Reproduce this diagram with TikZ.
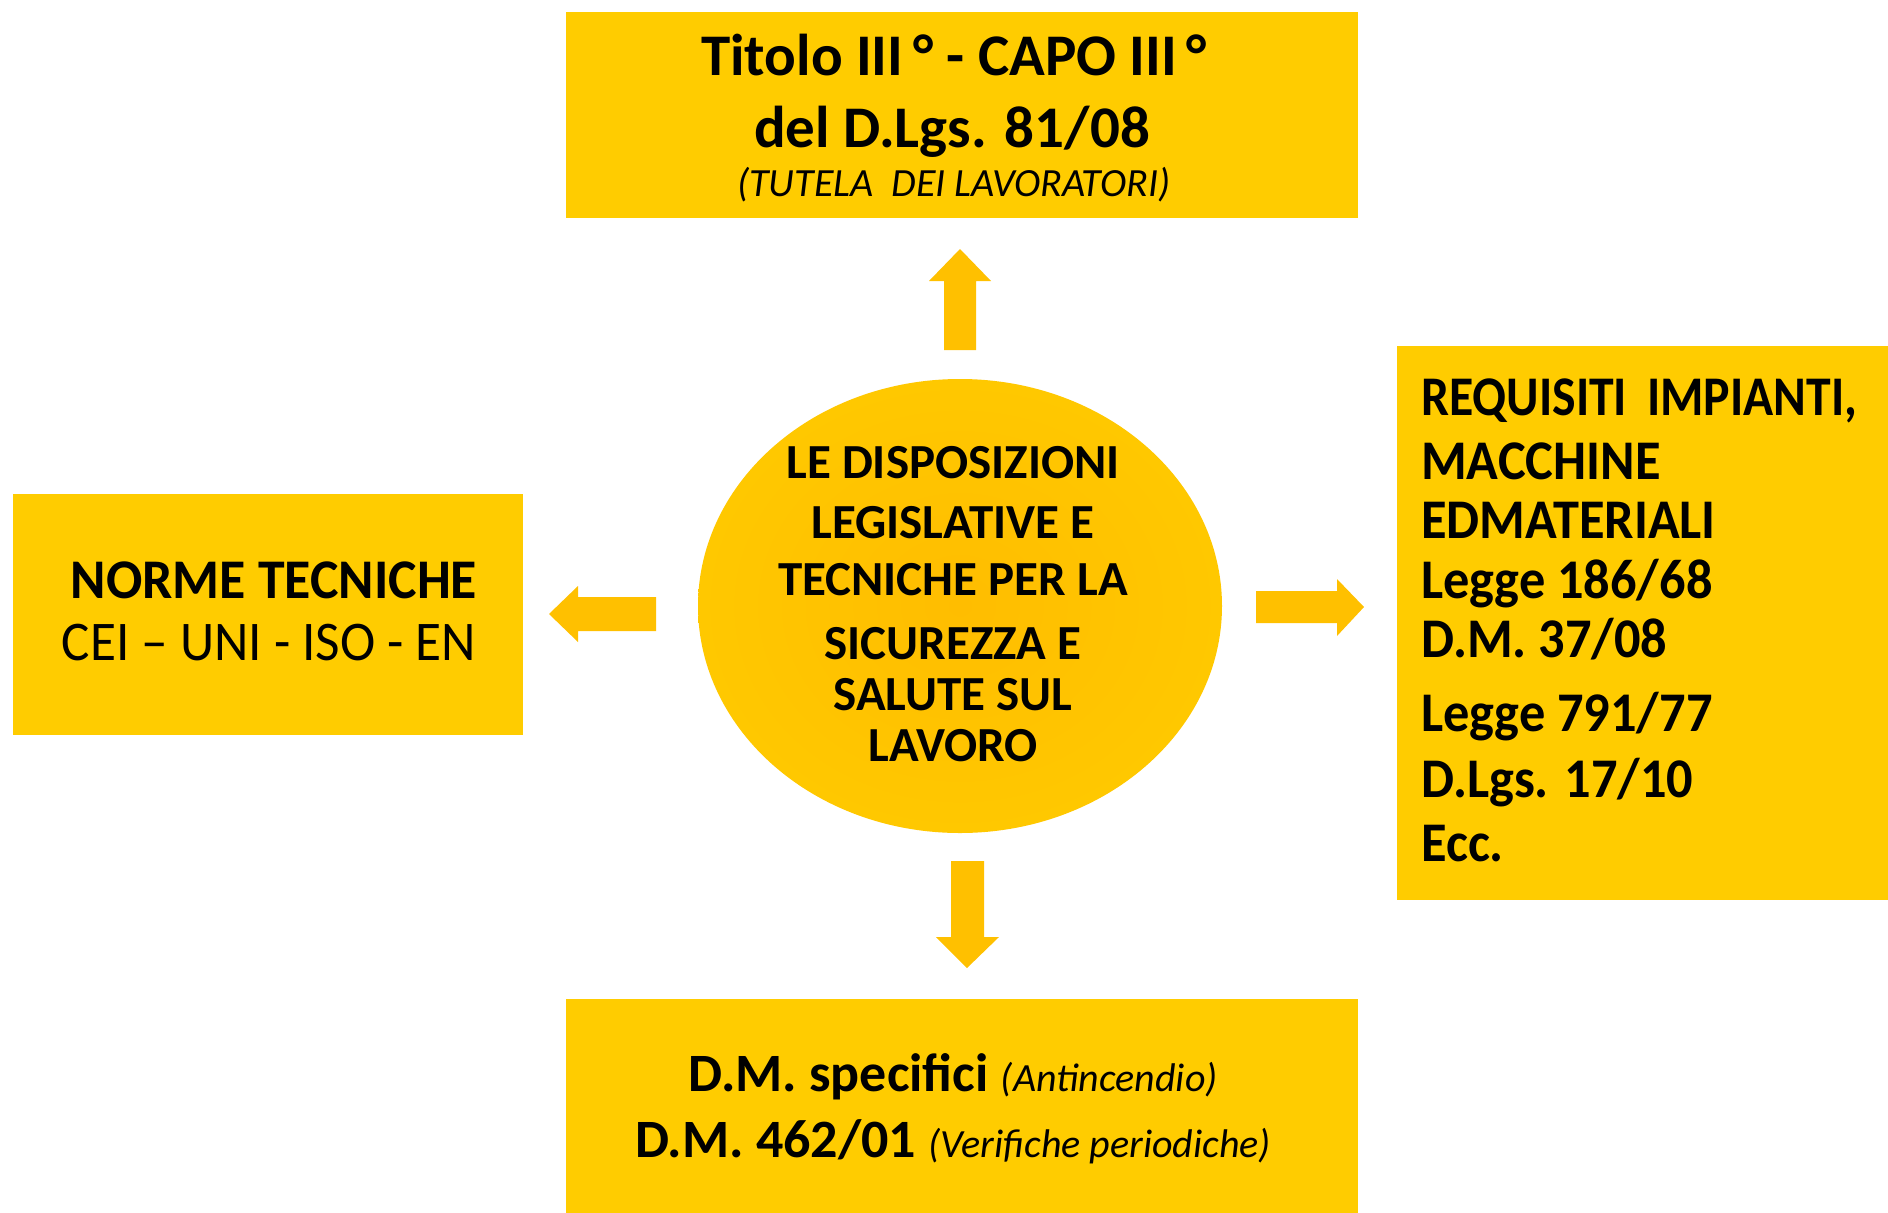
\documentclass[tikz,border=0pt]{standalone}
\usepackage{fontspec}
\setmainfont{Carlito}
\usetikzlibrary{shapes.geometric}
\definecolor{boxy}{RGB}{255,204,0}
\definecolor{arry}{RGB}{255,192,0}
\definecolor{circy}{RGB}{255,189,0}
\definecolor{circedge}{RGB}{255,200,0}
\begin{document}
\begin{tikzpicture}[x=1pt,y=-1pt,
  box/.style={fill=boxy,draw=none,inner sep=0pt,anchor=north west},
  arrowshape/.style={fill=arry,draw=none},
  txt/.style={inner sep=0pt,anchor=base},
  ltxt/.style={inner sep=0pt,anchor=base west,xscale=0.935},
  big/.style={font=\fontsize{59}{70}\selectfont\bfseries},
  mid/.style={font=\fontsize{56}{66}\selectfont\bfseries},
  circ/.style={font=\fontsize{49}{58}\selectfont\bfseries}]
\useasboundingbox (0,0) rectangle (1888,1213);
\fill[white] (0,0) rectangle (1888,1213);

% boxes
\node[box,minimum width=792pt,minimum height=206pt] (topbox) at (566,12) {};
\node[box,minimum width=510pt,minimum height=241pt] (leftbox) at (13,494) {};
\node[box,minimum width=491pt,minimum height=554pt] (rightbox) at (1397,346) {};
\node[box,minimum width=792pt,minimum height=214pt] (botbox) at (566,999) {};

% central ellipse
\node[ellipse,minimum width=524pt,minimum height=454pt,inner sep=0pt,
  inner color=circy,outer color=circedge,draw=none] (core) at (960,606) {};

% arrows
\path[arrowshape] (944,350) -- (944,281) -- (929,281) -- (960,249) -- (991,281) -- (976,281) -- (976,350) -- cycle;
\path[arrowshape] (656,597) -- (578,597) -- (578,586) -- (549,614) -- (578,642) -- (578,631) -- (656,631) -- cycle;
\path[arrowshape] (1256,591) -- (1337,591) -- (1337,579) -- (1364,607) -- (1337,636) -- (1337,623) -- (1256,623) -- cycle;
\path[arrowshape] (951,861) -- (984,861) -- (984,937) -- (999,937) -- (967,968) -- (936,937) -- (951,937) -- cycle;

% top text
\node[txt,big] (t1) at (954,75) {Titolo III\,° - CAPO III\,°};
\node[txt,big] (t2) at (952,147) {del D.Lgs. 81/08};
\node[txt,font=\fontsize{40}{46}\selectfont\itshape] (t3) at (954,196) {(TUTELA\ \ DEI LAVORATORI)};

% left text
\node[txt,mid,xscale=0.96] (l1) at (274,598) {NORME TECNICHE};
\node[txt,font=\fontsize{56}{66}\selectfont,xscale=0.95] (l2) at (269,660) {CEI – UNI - ISO - EN};

% circle text
\node[txt,circ] (c1) at (953,478) {LE DISPOSIZIONI};
\node[txt,circ] (c2) at (953,538) {LEGISLATIVE E};
\node[txt,circ] (c3) at (953,595) {TECNICHE PER LA};
\node[txt,circ] (c4) at (953,659) {SICUREZZA E};
\node[txt,circ] (c5) at (953,710) {SALUTE SUL};
\node[txt,circ] (c6) at (953,761) {LAVORO};

% right text
\node[ltxt,mid,xscale=0.95] (r1) at (1421,415) {REQUISITI\hspace{0.4em}IMPIANTI,};
\node[ltxt,mid] (r2) at (1421,479) {MACCHINE};
\node[ltxt,mid] (r3) at (1421,538) {EDMATERIALI};
\node[ltxt,mid] (r4) at (1421,598) {Legge 186/68};
\node[ltxt,mid] (r5) at (1421,657) {D.M. 37/08};
\node[ltxt,mid] (r6) at (1421,731) {Legge 791/77};
\node[ltxt,mid] (r7) at (1421,797) {D.Lgs. 17/10};
\node[ltxt,mid] (r8) at (1421,861) {Ecc.};

% bottom text
\node[txt] (b1) at (953,1091) {\fontsize{54}{64}\selectfont\bfseries D.M. specifici \fontsize{40}{48}\selectfont\mdseries\itshape(Antincendio)};
\node[txt] (b2) at (953,1157) {\fontsize{54}{64}\selectfont\bfseries D.M. 462/01 \fontsize{40}{48}\selectfont\mdseries\itshape(Verifiche periodiche)};
\end{tikzpicture}
\end{document}
